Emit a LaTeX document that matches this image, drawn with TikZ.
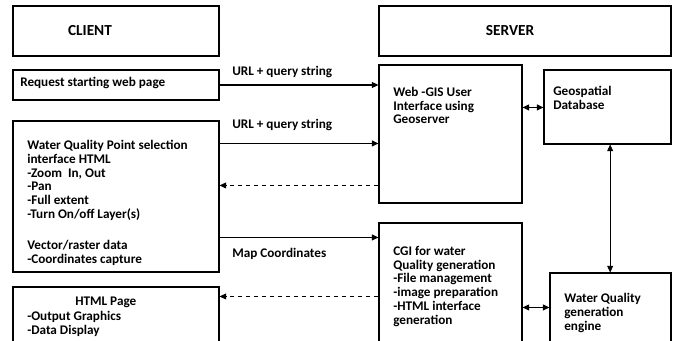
\documentclass[tikz,border=0pt]{standalone}
\usepackage{fontspec}
\setmainfont{Carlito}
\usetikzlibrary{arrows.meta, fit, positioning}

\tikzset{
  box/.style={draw, thick, rectangle, inner sep=0pt},
  txt/.style={anchor=north west, inner sep=0pt, align=left, font=\bfseries\fontsize{9.9}{10.3}\selectfont},
  lbl/.style={anchor=west, inner sep=0pt, font=\bfseries\fontsize{9.9}{10.3}\selectfont},
  conn/.style={-{Triangle[length=5pt,width=4.5pt]}, line width=0.9pt},
  dconn/.style={-{Triangle[length=5pt,width=4.5pt]}, dashed, line width=0.5pt},
  both/.style={{Triangle[length=5pt,width=4.5pt]}-{Triangle[length=5pt,width=4.5pt]}, line width=0.9pt}
}

\begin{document}
\begin{tikzpicture}[x=0.75pt, y=-0.75pt]
\useasboundingbox (0,0) rectangle (673,341);
\clip (0,0) rectangle (673,341);

% client side
\node[box, fit={(13,6) (219,56)}](client){};
\node[box, fit={(13,70) (219,100)}](req){};
\node[box, fit={(13,121) (219,272)}](wq){};
\node[box, fit={(13,287) (219,350)}](html){};

% server side
\node[box, fit={(379,6) (671,56)}](server){};
\node[box, fit={(379,65) (522,203)}](gis){};
\node[box, fit={(544,70) (671,144)}](geo){};
\node[box, fit={(379,223) (522,350)}](cgi){};
\node[box, fit={(550,273) (671,350)}](engine){};

% texts
\node[font=\bfseries\fontsize{11.5}{13}\selectfont](clientT) at (90,31) {CLIENT};
\node[font=\bfseries\fontsize{11.5}{13}\selectfont](serverT) at (510,31) {SERVER};
\node[lbl](reqT) at (20,83) {Request starting web page};
\node[txt](wqT) at (27,140) {Water Quality Point selection\\ interface HTML\\ -Zoom\ \ In, Out\\ -Pan\\ -Full extent\\ -Turn On/off Layer(s)\\[13pt] Vector/raster data\\ -Coordinates capture};
\node[txt](htmlT) at (75,297) {HTML Page};
\node[txt, font=\bfseries\fontsize{9.9}{10.5}\selectfont](htmlL) at (27,311) {-Output Graphics\\ -Data Display};
\node[txt](gisT) at (393,87) {Web -GIS User\\ Interface using\\ Geoserver};
\node[txt](geoT) at (553,86) {Geospatial\\ Database};
\node[txt](cgiT) at (393,246) {CGI for water\\ Quality generation\\ -File management\\ -image preparation\\ -HTML interface\\ generation};
\node[txt, font=\bfseries\fontsize{9.9}{10.6}\selectfont](engineT) at (564,293) {Water Quality\\ generation\\ engine};

% connectors
\draw[conn] (req.east) -- (req.east -| gis.west);
\draw[conn] ([yshift=-17.25pt]wq.north east) -- ([yshift=-17.25pt]wq.north east -| gis.west);
\draw[dconn] ([yshift=-90.75pt]gis.north west) -- ([yshift=-90.75pt]gis.north west -| wq.east);
\draw[conn] ([yshift=-11.25pt]cgi.north west -| wq.east) -- ([yshift=-11.25pt]cgi.north west);
\draw[dconn] ([yshift=-55.5pt]cgi.north west) -- ([yshift=-55.5pt]cgi.north west -| html.east);
\draw[both] ([yshift=-32.25pt]gis.north east) -- ([yshift=-32.25pt]gis.north east -| geo.west);
\draw[both] ([yshift=-63.75pt]cgi.north east) -- ([yshift=-63.75pt]cgi.north east -| engine.west);
\draw[both, line width=0.5pt] ([xshift=2pt]geo.south) -- ([xshift=2pt]geo.south |- engine.north);

\node[lbl](url1) at (232,72) {URL + query string};
\node[lbl](url2) at (232,125) {URL + query string};
\node[lbl](mapc) at (232,254) {Map Coordinates};
\end{tikzpicture}
\end{document}
